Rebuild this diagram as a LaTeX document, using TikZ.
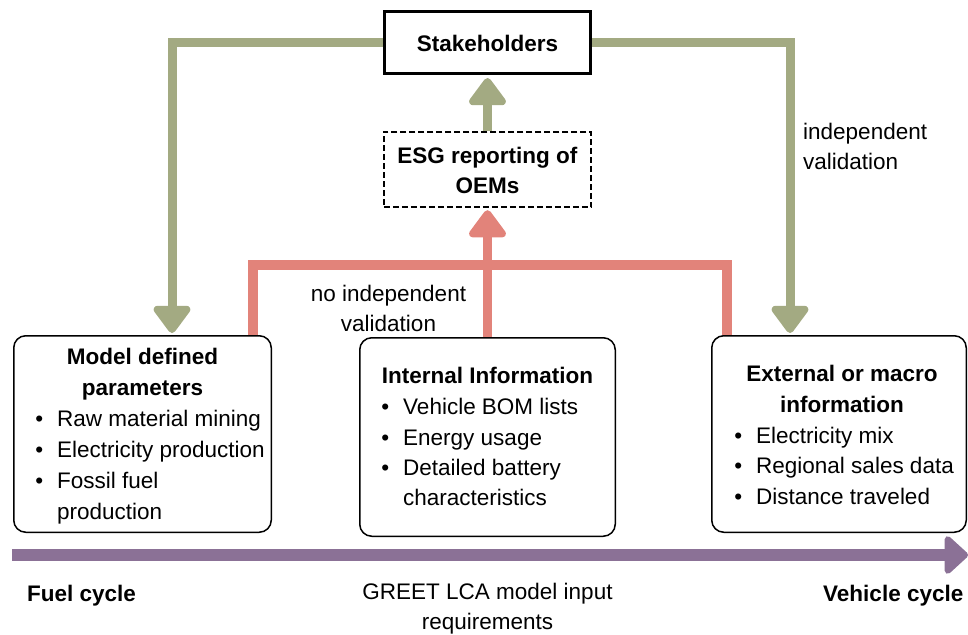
\documentclass[tikz,border=0pt]{standalone}
\usepackage{fontspec}
\setmainfont{Liberation Sans}
\usetikzlibrary{arrows.meta}
\definecolor{gr}{HTML}{A3AA82}
\definecolor{rd}{HTML}{E2837A}
\definecolor{pu}{HTML}{8B7196}
\newcommand\mybul{\llap{\textbullet\hspace{14pt}}}
\begin{document}
\begin{tikzpicture}[x=1pt,y=-1pt,
  every node/.style={font=\fontsize{22.5}{31}\selectfont, inner sep=0pt},
  box/.style={draw, line width=1.5pt, rounded corners=12pt},
  txt/.style={anchor=base},
  itm/.style={anchor=base west},
  garrow/.style={draw=gr, line width=9pt, -{Triangle[width=42pt,length=30pt,round]}, color=gr},
  rarrow/.style={draw=rd, line width=9pt, -{Triangle[width=42pt,length=30pt,round]}, color=rd},
  rline/.style={draw=rd, line width=10pt},
  parrow/.style={draw=pu, line width=12pt, -{Triangle[width=44pt,length=25pt,round]}, color=pu}]
\useasboundingbox (0,0) rectangle (968,634);
% main boxes
\node[draw, line width=3pt, minimum width=206pt, minimum height=62pt] (stake) at (487.5,42.5) {};
\node[draw, line width=1.8pt, dash pattern=on 6pt off 3pt, minimum width=207.5pt, minimum height=75.5pt] (esg) at (487.5,169.5) {};
\node[box, minimum width=257.5pt, minimum height=196.5pt] (mleft) at (142.5,434) {};
\node[box, minimum width=255.5pt, minimum height=198.5pt] (mmid) at (487.5,437) {};
\node[box, minimum width=254.5pt, minimum height=196.5pt] (mright) at (839,434) {};
% connectors
\coordinate (rtop) at (487.5,265);
\draw[rline] ([xshift=110.5pt]mleft.north) |- (rtop) -| ([xshift=-112pt]mright.north);
\draw[rarrow] (mmid.north) -- ([yshift=-2pt]esg.south);
\draw[garrow] (esg.north) -- ([yshift=-3pt]stake.south);
\draw[garrow] (stake.west) -| ([xshift=29.5pt,yshift=2pt]mleft.north);
\draw[garrow] (stake.east) -| ([xshift=-49pt,yshift=2pt]mright.north);
\coordinate (ps) at (12,555);
\coordinate (pe) at (968,555);
\draw[parrow] (ps) -- (pe);
% texts
\node[txt] (t1) at (487.5,52) {\textbf{Stakeholders}};
\node[txt] (t2) at (487.5,163) {\textbf{ESG reporting of}};
\node[txt] (t3) at (487.5,193) {\textbf{OEMs}};
\node[itm] (t4) at (803,139) {independent};
\node[itm] (t5) at (803,169) {validation};
\node[txt] (t6) at (388.5,301) {no independent};
\node[txt] (t7) at (388.5,331) {validation};
\node[txt] (l1) at (142.5,364) {\textbf{Model defined}};
\node[txt] (l2) at (142.5,395) {\textbf{parameters}};
\node[itm] (l3) at (57,426) {\mybul Raw material mining};
\node[itm] (l4) at (57,457) {\mybul Electricity production};
\node[itm] (l5) at (57,488) {\mybul Fossil fuel};
\node[itm] (l6) at (57,519) {production};
\node[txt] (m1) at (487.5,383) {\textbf{Internal Information}};
\node[itm] (m2) at (403,414) {\mybul Vehicle BOM lists};
\node[itm] (m3) at (403,445) {\mybul Energy usage};
\node[itm] (m4) at (403,475) {\mybul Detailed battery};
\node[itm] (m5) at (403,505) {characteristics};
\node[txt] (r1) at (842,381) {\textbf{External or macro}};
\node[txt] (r2) at (842,412) {\textbf{information}};
\node[itm] (r3) at (756,443) {\mybul Electricity mix};
\node[itm] (r4) at (756,473) {\mybul Regional sales data};
\node[itm] (r5) at (756,504) {\mybul Distance traveled};
\node[itm] (b1) at (27,601) {\textbf{Fuel cycle}};
\node[txt] (b2) at (487.5,599) {GREET LCA model input};
\node[txt] (b3) at (487.5,629) {requirements};
\node[itm] (b4) at (823,601) {\textbf{Vehicle cycle}};
\end{tikzpicture}
\end{document}
